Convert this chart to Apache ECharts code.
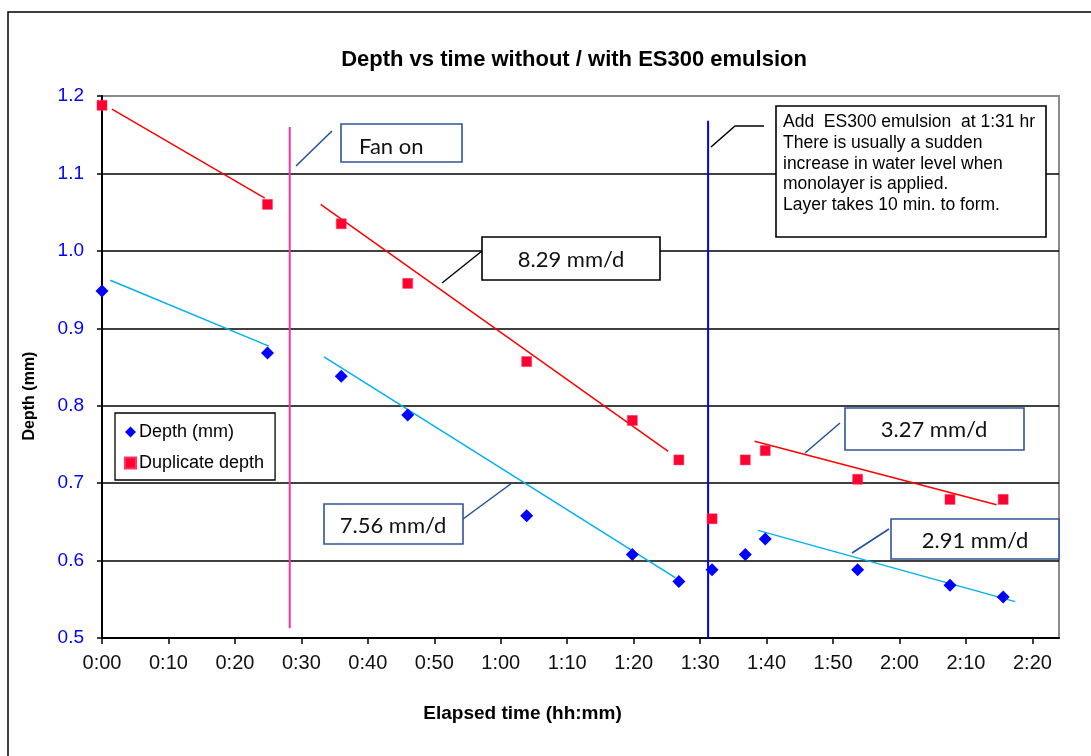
<!DOCTYPE html>
<html>
<head>
<meta charset="utf-8">
<script src="https://cdn.jsdelivr.net/npm/echarts@6/dist/echarts.min.js"></script>
<style>
  html, body { margin: 0; padding: 0; background: #fff; }
  #chart { width: 1091px; height: 756px; }
</style>
</head>
<body>
<div id="chart"></div>
<script>
// Elapsed time of each reading, in minutes
const minutes = [0, 24.9, 36.0, 46.0, 63.9, 79.8, 86.8, 91.8, 96.8, 99.8, 113.7, 127.6, 135.6];
// Depth readings (mm)
const depth = [0.948, 0.868, 0.838, 0.788, 0.658, 0.608, 0.573, 0.588, 0.608, 0.628, 0.588, 0.568, 0.553];
// Duplicate depth readings (mm)
const duplicateDepth = [1.188, 1.060, 1.035, 0.958, 0.857, 0.781, 0.730, 0.654, 0.730, 0.742, 0.705, 0.679, 0.679];

// Fitted trend segments: [[startMin, startDepth], [endMin, endDepth]]
const depthTrends = [
  [[1.25, 0.962], [25.1, 0.877]],
  [[33.4, 0.863], [86.25, 0.578]],
  [[98.7, 0.639], [137.4, 0.547]]
];
const duplicateTrends = [
  [[1.5, 1.183], [24.5, 1.068]],
  [[32.9, 1.060], [85.2, 0.741]],
  [[98.2, 0.754], [134.6, 0.672]]
];

// Event markers: fan switched on, emulsion added at 1:31
const fanOnMarker = [[28.25, 0.5125], [28.25, 1.160]];
const emulsionMarker = [[91.2, 0.5], [91.2, 1.168]];

// Time axis ticks and labels
const tickMinutes = [0, 10, 20, 30, 40, 50, 60, 70, 80, 90, 100, 110, 120, 130, 140];
const tickLabels = ['0:00', '0:10', '0:20', '0:30', '0:40', '0:50', '1:00', '1:10', '1:20', '1:30', '1:40', '1:50', '2:00', '2:10', '2:20'];

const pair = (xs, ys) => xs.map((x, i) => [x, ys[i]]);

const trendSeries = (segments, color) => segments.map(seg => ({
  type: 'line',
  data: seg,
  symbol: 'none',
  silent: true,
  lineStyle: { color: color, width: 1.5 },
  z: 2
}));

const ARIAL = '"Liberation Sans", Arial, sans-serif';
const CAL = 'Lato, "Open Sans", sans-serif';

function box(x, y, w, h, color) {
  return { type: 'rect', shape: { x: x, y: y, width: w, height: h },
    style: { fill: '#fff', stroke: color, lineWidth: 1.6 }, z: 20 };
}
function leader(points, color) {
  return { type: 'polyline', shape: { points: points },
    style: { fill: null, stroke: color, lineWidth: 1.5 }, z: 20 };
}
function label(x, y, text, align) {
  return { type: 'text', x: x, y: y, z: 21,
    style: { text: text, font: '22px ' + CAL, fill: '#111', align: align || 'center', verticalAlign: 'middle' } };
}

const chart = echarts.init(document.getElementById('chart'));

const option = {
  backgroundColor: '#fff',
  animation: false,
  title: {
    text: 'Depth vs time without / with ES300 emulsion',
    left: 569, top: 44, textAlign: 'center',
    textStyle: { fontFamily: ARIAL, fontSize: 22, fontWeight: 'bold', color: '#000' }
  },
  grid: {
    left: 102, top: 96, right: 32, bottom: 118,
    show: true, borderColor: '#8c8c8c', borderWidth: 2, backgroundColor: '#fff'
  },
  legend: {
    orient: 'vertical',
    left: 115, top: 413,
    padding: [10, 11, 8, 9],
    itemGap: 13,
    itemWidth: 11, itemHeight: 11,
    backgroundColor: '#fff',
    borderColor: '#000', borderWidth: 1.3, borderRadius: 0,
    data: ['Depth (mm)', 'Duplicate depth'],
    textStyle: { fontFamily: ARIAL, fontSize: 18, color: '#000', padding: [0, 0, 0, -2] }
  },
  xAxis: {
    type: 'value',
    min: 0, max: 144, interval: 10,
    name: 'Elapsed time (hh:mm)',
    nameLocation: 'middle', nameGap: 66,
    nameTextStyle: { fontFamily: ARIAL, fontSize: 19, fontWeight: 'bold', color: '#000', padding: [0, 116, 0, 0] },
    axisLine: { lineStyle: { color: '#000', width: 2 } },
    axisTick: { show: true, length: 6, customValues: tickMinutes, lineStyle: { color: '#000', width: 1.5 } },
    axisLabel: {
      customValues: tickMinutes,
      formatter: v => tickLabels[tickMinutes.indexOf(v)],
      fontFamily: ARIAL, fontSize: 20, color: '#111', margin: 15
    },
    splitLine: { show: false }
  },
  yAxis: {
    type: 'value',
    min: 0.5, max: 1.2, interval: 0.1,
    name: 'Depth (mm)',
    nameLocation: 'middle', nameGap: 64, nameRotate: 90,
    nameTextStyle: { fontFamily: ARIAL, fontSize: 16, fontWeight: 'bold', color: '#000', padding: [0, 58, 0, 0] },
    axisLine: { show: true, lineStyle: { color: '#000', width: 2 } },
    axisTick: { show: true, length: 5, lineStyle: { color: '#000', width: 1.5 } },
    axisLabel: {
      formatter: v => v.toFixed(1),
      fontFamily: ARIAL, fontSize: 19, color: '#0000ff', margin: 18
    },
    splitLine: { show: true, showMaxLine: false, showMinLine: false, lineStyle: { color: '#000', width: 1.5 } }
  },
  series: [
    ...trendSeries(depthTrends, '#00b0f0'),
    ...trendSeries(duplicateTrends, '#ff0000'),
    {
      type: 'line', data: fanOnMarker, symbol: 'none', silent: true,
      lineStyle: { color: '#ff3399', width: 2 }, z: 3
    },
    {
      type: 'line', data: emulsionMarker, symbol: 'none', silent: true,
      lineStyle: { color: '#0000ff', width: 2 }, z: 3
    },
    {
      name: 'Depth (mm)', type: 'scatter', data: pair(minutes, depth),
      symbol: 'diamond', symbolSize: 13,
      itemStyle: { color: '#0000ff', opacity: 1 }, z: 5
    },
    {
      name: 'Duplicate depth', type: 'scatter', data: pair(minutes, duplicateDepth),
      symbol: 'rect', symbolSize: 10,
      itemStyle: { color: '#ff0030', opacity: 1, borderColor: '#ff3366', borderWidth: 0.5 }, z: 5
    }
  ],
  graphic: [
    // chart frame
    { type: 'rect', shape: { x: 8, y: 12, width: 1100, height: 760 },
      style: { fill: null, stroke: '#000', lineWidth: 1.5 }, z: 30, silent: true },

    // Fan on
    leader([[296, 166], [332, 131]], '#1f4e9c'),
    box(341, 124, 121, 38, '#2f5597'),
    label(359, 147, 'Fan on', 'left'),

    // 8.29 mm/d
    leader([[442, 283], [482, 251]], '#000'),
    box(482, 237, 178, 43, '#000'),
    label(571, 260, '8.29 mm/d'),

    // 7.56 mm/d
    leader([[463, 519], [512, 483]], '#1f4e9c'),
    box(324, 504, 139, 40, '#2f5597'),
    label(393, 526, '7.56 mm/d'),

    // 3.27 mm/d
    leader([[805, 453], [840, 423]], '#1f4e9c'),
    box(845, 408, 179, 42, '#2f5597'),
    label(934, 430, '3.27 mm/d'),

    // 2.91 mm/d
    leader([[852, 553], [889, 529]], '#1f4e9c'),
    box(891, 519, 168, 40, '#2f5597'),
    label(975, 541, '2.91 mm/d'),

    // emulsion note
    leader([[711, 147], [735, 126], [764, 126]], '#000'),
    box(776, 106, 270, 131, '#000'),
    { type: 'text', x: 783, y: 112, z: 21,
      style: {
        text: 'Add  ES300 emulsion  at 1:31 hr\nThere is usually a sudden\nincrease in water level when\nmonolayer is applied.\nLayer takes 10 min. to form.',
        font: '17.5px ' + ARIAL, fill: '#000', lineHeight: 20.7, align: 'left', verticalAlign: 'top'
      } }
  ]
};

chart.setOption(option);
</script>
</body>
</html>
